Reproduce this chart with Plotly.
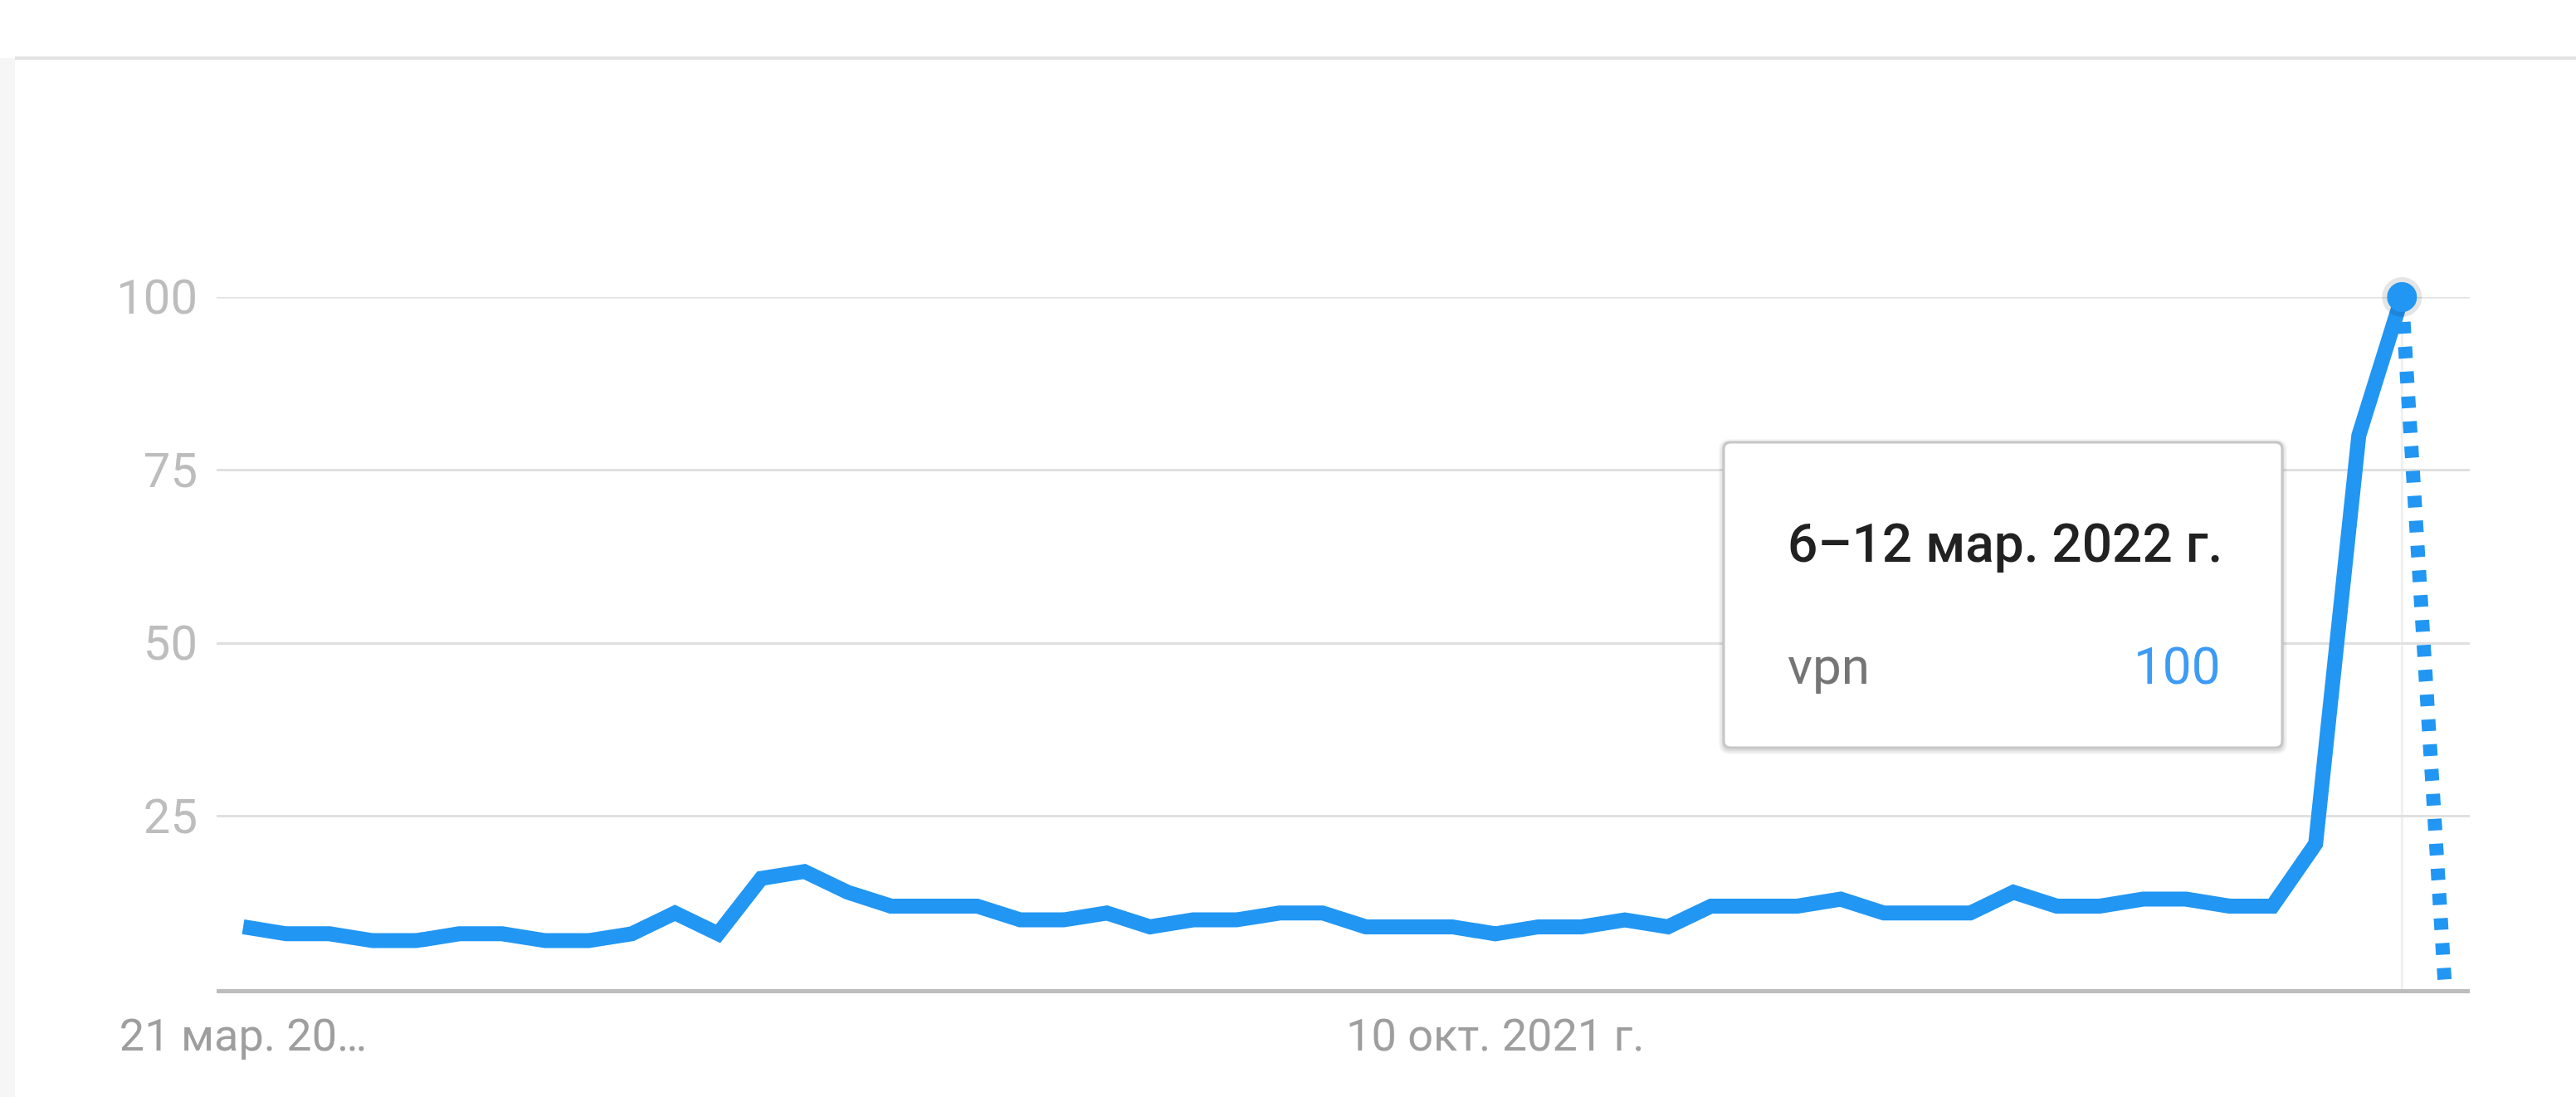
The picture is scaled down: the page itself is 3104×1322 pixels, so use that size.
import pandas as pd
import plotly.graph_objects as go

# ---------------- data ----------------
week_start = pd.date_range("2021-03-21", periods=52, freq="7D")
vpn_values = [9, 8, 8, 7, 7, 8, 8, 7, 7, 8,
              11, 8, 16, 17, 14, 12, 12, 12, 10, 10,
              11, 9, 10, 10, 11, 11, 9, 9, 9, 8,
              9, 9, 10, 9, 12, 12, 12, 13, 11, 11,
              11, 14, 12, 12, 13, 13, 12, 12, 21, 80,
              100]
partial_value = 0  # incomplete week (dotted)
tick_dates = ["2021-03-21", "2021-10-10"]
tick_labels = ["21 мар. 20…", "10 окт. 2021 г."]
y_ticks = [25, 50, 75, 100]
tooltip_title = "6–12 мар. 2022 г."
series_name = "vpn"

# ---------------- geometry helpers ----------------
W, H = 3104, 1322
PL, PR, PT, PB = 261, 2976, 358, 1192


def px_x(p):
    return (p - PL) / (PR - PL)


def px_y(p):
    return (PB - p) / (PB - PT)


BLUE = "#2196f3"
solid_x = list(week_start[:len(vpn_values)])
fig = go.Figure()

# dotted partial segment
fig.add_trace(go.Scatter(
    x=[week_start[len(vpn_values) - 1], week_start[len(vpn_values)]],
    y=[vpn_values[-1], partial_value],
    mode="lines", line=dict(color=BLUE, width=17, dash="14px,16px"),
    hoverinfo="skip", cliponaxis=False, showlegend=False))

# main line
fig.add_trace(go.Scatter(
    x=solid_x, y=vpn_values, mode="lines",
    line=dict(color=BLUE, width=18, shape="linear"),
    cliponaxis=False, showlegend=False, name=series_name))

# hovered point shadow + marker
fig.add_trace(go.Scatter(
    x=[solid_x[-1]], y=[vpn_values[-1]], mode="markers",
    marker=dict(size=48, color="rgba(0,0,0,0.10)", line=dict(width=0)),
    cliponaxis=False, showlegend=False, hoverinfo="skip"))
fig.add_trace(go.Scatter(
    x=[solid_x[-1]], y=[vpn_values[-1]], mode="markers",
    marker=dict(size=36, color=BLUE, line=dict(width=0)),
    cliponaxis=False, showlegend=False, hoverinfo="skip"))

x_lo = week_start[0] - pd.Timedelta(days=7 * 0.615)
x_hi = week_start[0] + pd.Timedelta(days=7 * 51.57)

shapes = []
# page chrome
shapes.append(dict(type="rect", xref="paper", yref="paper",
                   x0=px_x(0), x1=px_x(18), y0=px_y(W), y1=px_y(70),
                   fillcolor="#f6f6f6", line=dict(width=0), layer="below"))
shapes.append(dict(type="line", xref="paper", yref="paper",
                   x0=px_x(18), x1=px_x(W), y0=px_y(70), y1=px_y(70),
                   line=dict(color="#e3e3e3", width=4)))
# top gridline (at range edge)
shapes.append(dict(type="line", xref="paper", yref="y",
                   x0=0, x1=1, y0=y_ticks[-1], y1=y_ticks[-1],
                   line=dict(color="#e0e0e0", width=3), layer="below"))
# hover vertical line
shapes.append(dict(type="line", xref="x", yref="paper",
                   x0=solid_x[-1], x1=solid_x[-1], y0=0, y1=1,
                   line=dict(color="#f0f0f0", width=3), layer="below"))

# tooltip box with rounded corners
bx0, bx1, by0, by1, r = 2077, 2750, 533, 901, 8


def rounded(x0, x1, y0, y1, rr):
    X = lambda v: px_x(v)
    Y = lambda v: px_y(v)
    return (f"M {X(x0+rr)},{Y(y0)} L {X(x1-rr)},{Y(y0)} "
            f"Q {X(x1)},{Y(y0)} {X(x1)},{Y(y0+rr)} "
            f"L {X(x1)},{Y(y1-rr)} Q {X(x1)},{Y(y1)} {X(x1-rr)},{Y(y1)} "
            f"L {X(x0+rr)},{Y(y1)} Q {X(x0)},{Y(y1)} {X(x0)},{Y(y1-rr)} "
            f"L {X(x0)},{Y(y0+rr)} Q {X(x0)},{Y(y0)} {X(x0+rr)},{Y(y0)} Z")


for k, a in [(6, 0.04), (4, 0.05), (2, 0.06)]:
    shapes.append(dict(type="path", xref="paper", yref="paper",
                       path=rounded(bx0 - k, bx1 + k, by0 - k + 2, by1 + k + 2, r + k),
                       fillcolor=f"rgba(0,0,0,{a})", line=dict(width=0)))
shapes.append(dict(type="path", xref="paper", yref="paper",
                   path=rounded(bx0, bx1, by0, by1, r),
                   fillcolor="white", line=dict(color="#c6c6c6", width=3)))

annotations = [
    dict(xref="paper", yref="paper", x=px_x(2152), y=px_y(655),
         xanchor="left", yanchor="middle", showarrow=False,
         text=tooltip_title,
         font=dict(family="Roboto", size=64, color="#212121", weight=500)),
    dict(xref="paper", yref="paper", x=px_x(2152), y=px_y(802),
         xanchor="left", yanchor="middle", showarrow=False,
         text=series_name,
         font=dict(family="Roboto", size=62, color="#757575")),
    dict(xref="paper", yref="paper", x=px_x(2678), y=px_y(802),
         xanchor="right", yanchor="middle", showarrow=False,
         text=str(vpn_values[-1]),
         font=dict(family="Roboto", size=62, color="#3d9bf5")),
]

fig.update_layout(
    width=W, height=H,
    margin=dict(l=PL, r=W - PR, t=PT, b=H - PB, pad=0),
    paper_bgcolor="white", plot_bgcolor="white",
    shapes=shapes, annotations=annotations,
    font=dict(family="Roboto"),
    xaxis=dict(type="date", range=[x_lo, x_hi], showgrid=False,
               zeroline=False, showline=True, linecolor="#bdbdbd", linewidth=5,
               tickvals=tick_dates, ticktext=tick_labels, ticks="",
               ticklabelstandoff=4,
               tickfont=dict(family="Roboto", size=54, color="#9e9e9e")),
    yaxis=dict(range=[0, 100], tickvals=y_ticks, ticks="",
               showgrid=True, gridcolor="#e0e0e0", gridwidth=3,
               zeroline=False, showline=False,
               ticklabelstandoff=22,
               tickfont=dict(family="Roboto", size=58, color="#bdbdbd")),
)

fig.write_html("out.html", config={"displayModeBar": False},
               post_script="document.body.style.margin='0';")
